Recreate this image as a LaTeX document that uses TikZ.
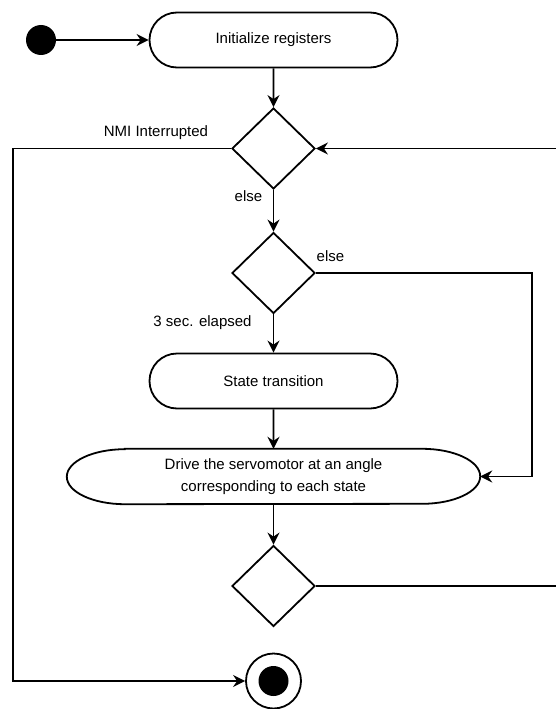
\documentclass[tikz,border=0pt]{standalone}
\usepackage{fontspec}
\setmainfont{Liberation Sans}
\usetikzlibrary{shapes.geometric, shapes.misc, arrows.meta}

\tikzset{
  wire/.style={line width=1.8pt},
  flow/.style={wire, -{Stealth[length=12pt,width=12pt,inset=4pt]}},
  action/.style={rounded rectangle, draw, line width=1.8pt, minimum width=248pt, minimum height=55pt, inner sep=0pt},
  decision/.style={diamond, draw, line width=1.8pt, minimum width=83pt, minimum height=81pt, inner sep=0pt},
}

\begin{document}
\begin{tikzpicture}[x=1pt, y=1pt, every node/.style={font=\fontsize{15}{22}\selectfont}]
\useasboundingbox (0,0) rectangle (556,-709);
\node[circle, fill, minimum size=30pt, inner sep=0pt] (start) at (41,-40) {};
\node[action] (init) at (273.5,-40) {Initialize registers};
\node[decision] (d1) at (273.5,-148.5) {};
\node[decision] (d2) at (273.5,-273) {};
\node[action] (trans) at (273.5,-381) {State transition};
\node[minimum width=413pt, minimum height=55pt, inner sep=0pt, align=center] (drive) at (273.5,-476.5) {Drive the servomotor at an angle\\corresponding to each state};
\draw[wire] ([xshift=58pt]drive.north west) -- ([xshift=-58pt]drive.north east)
  arc[start angle=90, end angle=-90, x radius=58pt, y radius=27.5pt]
  -- ([xshift=58pt]drive.south west)
  arc[start angle=270, end angle=90, x radius=58pt, y radius=27.5pt] -- cycle;
\node[decision] (d3) at (273.5,-586) {};
\node[circle, draw, line width=1.8pt, minimum size=55pt, inner sep=0pt] (stop) at (273.5,-681) {};
\fill (stop.center) circle[radius=15pt];

\node (nmi) at (156,-133) {NMI Interrupted};
\node (else1) at (248.5,-196) {else};
\node (else2) at (330.5,-256) {else};
\node (elapsed) at (202.5,-323) {3 sec. elapsed};

\coordinate (lbend) at (13,-148.5);
\coordinate (rbend) at (532,-273);
\coordinate (loopin) at (560,-148.5);
\coordinate (loopout) at (560,-586);

\draw[flow] (start) -- (init);
\draw[flow] (init) -- (d1);
\draw[flow] (d1) -- (d2);
\draw[flow] (d2) -- (trans);
\draw[flow] (trans) -- (drive);
\draw[flow] (drive) -- (d3);
\draw[flow] (d2.east) -- (rbend) |- (drive.east);
\draw[flow] (d1.west) -- (lbend) |- (stop.west);
\draw[flow] (loopin) -- (d1.east);
\draw[wire] (d3.east) -- (loopout);
\end{tikzpicture}
\end{document}
